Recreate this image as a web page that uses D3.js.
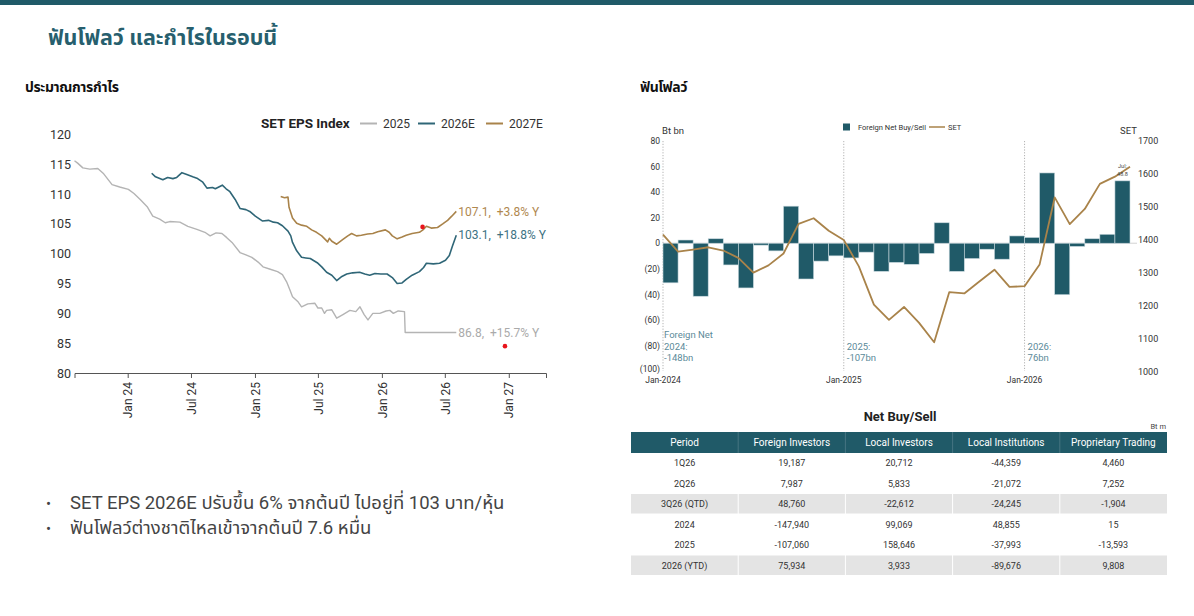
<!DOCTYPE html>
<html><head><meta charset="utf-8">
<script src="https://cdn.jsdelivr.net/npm/d3@7"></script>
<style>
body{margin:0;background:#fff;}
svg{font-family:Roboto,"Noto Sans","Noto Sans Thai",Loma,Garuda,sans-serif;}
</style></head><body>
<svg id="page" width="1194" height="616"></svg>
<script>
// ---- data: SET EPS index (consensus EPS by year) ----
var eps2025 = [["2023-08-01",115.6],["2023-08-10",115.2],["2023-08-25",114.4],["2023-09-14",114.2],["2023-10-07",114.3],
  ["2023-10-24",113.4],["2023-11-17",111.6],["2023-12-09",111.2],["2024-01-03",110.8],["2024-01-19",110.1],
  ["2024-02-06",109.1],["2024-02-26",107.9],["2024-03-13",106.3],["2024-04-02",105.8],["2024-04-18",105.2],["2024-05-01",105.4],
  ["2024-05-30",105.3],["2024-06-22",104.6],["2024-07-18",104.1],["2024-08-10",103.6],["2024-08-25",103.0],["2024-09-11",103.5],
  ["2024-09-28",103.4],["2024-10-12",102.7],["2024-10-27",101.9],["2024-11-19",100.2],["2024-12-06",99.8],
  ["2024-12-23",99.4],["2025-01-10",98.6],["2025-01-24",97.8],["2025-02-14",97.4],["2025-03-07",97.0],
  ["2025-03-21",96.5],["2025-04-02",95.3],["2025-04-11",94.0],["2025-04-19",92.8],["2025-05-04",92.0],
  ["2025-05-15",91.1],["2025-06-02",91.6],["2025-06-22",91.7],["2025-07-01",90.9],["2025-07-12",90.9],
  ["2025-07-20",90.0],["2025-07-26",90.5],["2025-08-10",90.6],["2025-08-24",89.2],["2025-09-11",89.8],["2025-10-01",90.5],
  ["2025-10-18",90.3],["2025-10-30",91.1],["2025-11-11",89.8],["2025-11-22",88.9],["2025-12-06",90.0],
  ["2025-12-26",90.0],["2026-01-13",90.4],["2026-01-24",90.5],["2026-02-03",90.0],["2026-02-17",90.4],
  ["2026-03-07",90.3],["2026-03-09",86.8],["2026-08-03",86.8]];
var eps2026 = [["2024-03-10",113.5],["2024-03-21",112.9],["2024-04-11",112.4],["2024-04-25",112.8],["2024-05-10",112.6],
  ["2024-05-21",112.8],["2024-06-05",113.6],["2024-06-19",113.3],["2024-07-06",112.9],["2024-07-20",112.6],
  ["2024-08-04",112.0],["2024-08-16",111.0],["2024-09-01",111.1],["2024-09-09",110.9],["2024-09-29",111.5],
  ["2024-10-10",110.9],["2024-10-21",110.4],["2024-11-05",109.1],["2024-11-19",107.6],["2024-12-06",107.4],
  ["2024-12-17",107.1],["2025-01-02",106.3],["2025-01-22",105.5],["2025-02-09",105.6],["2025-02-23",105.3],
  ["2025-03-07",105.2],["2025-03-21",104.7],["2025-04-06",103.8],["2025-04-14",103.0],["2025-04-19",101.9],
  ["2025-05-01",100.5],["2025-05-15",99.4],["2025-05-27",99.3],["2025-06-09",99.2],["2025-06-29",98.5],
  ["2025-07-12",97.8],["2025-07-26",96.9],["2025-08-10",96.4],["2025-08-24",95.5],["2025-09-08",96.2],
  ["2025-09-22",96.6],["2025-10-09",96.8],["2025-10-29",96.9],["2025-11-13",96.6],["2025-11-27",96.4],
  ["2025-12-12",96.7],["2025-12-29",96.6],["2026-01-16",96.6],["2026-01-31",96.0],["2026-02-14",95.0],
  ["2026-02-28",95.1],["2026-03-12",95.7],["2026-03-29",96.4],["2026-04-19",97.0],["2026-05-01",97.7],
  ["2026-05-09",98.4],["2026-05-29",98.3],["2026-06-16",98.4],["2026-07-03",98.9],["2026-07-14",99.7],
  ["2026-07-23",101.3],["2026-08-03",103.1]];
var eps2027 = [["2025-03-16",109.6],["2025-03-27",109.4],["2025-04-06",109.5],["2025-04-09",107.8],["2025-04-19",106.0],
  ["2025-05-01",105.1],["2025-05-15",104.8],["2025-05-30",104.6],["2025-06-13",104.0],["2025-06-27",103.6],
  ["2025-07-12",103.0],["2025-07-29",102.0],["2025-08-03",102.6],["2025-08-10",102.1],["2025-08-24",101.6],["2025-09-11",102.4],
  ["2025-09-25",103.0],["2025-10-06",103.4],["2025-10-20",103.0],["2025-11-03",103.1],["2025-11-21",103.3],
  ["2025-12-06",103.4],["2025-12-20",103.7],["2026-01-11",104.0],["2026-01-22",103.6],["2026-01-31",103.0],
  ["2026-02-14",102.5],["2026-02-28",102.8],["2026-03-12",103.1],["2026-03-29",103.4],["2026-04-19",103.6],
  ["2026-05-01",104.1],["2026-05-09",104.6],["2026-05-23",104.3],["2026-06-10",104.4],["2026-06-25",105.0],
  ["2026-07-09",105.6],["2026-07-21",106.3],["2026-08-03",107.1]];
var epsDots = [["2026-04-28",104.5],["2026-12-21",84.5]];
var epsSeries = ["2025","2026E","2027E"];
var epsEndLabels = ["86.8,  +15.7% Y","103.1,  +18.8% Y","107.1,  +3.8% Y"];
var epsTicks = [80,85,90,95,100,105,110,115,120];
var epsDateTicks = ["2024-01-01","2024-07-01","2025-01-01","2025-07-01","2026-01-01","2026-07-01","2027-01-01"];

// ---- data: foreign fund flow (Bt bn) and SET index ----
var flowMonths = ["2024-01","2024-02","2024-03","2024-04","2024-05","2024-06","2024-07","2024-08","2024-09","2024-10","2024-11","2024-12",
  "2025-01","2025-02","2025-03","2025-04","2025-05","2025-06","2025-07","2025-08","2025-09","2025-10","2025-11","2025-12",
  "2026-01","2026-02","2026-03","2026-04","2026-05","2026-06","2026-07"];
var foreignNet = [-31,2.5,-41.5,3.5,-17,-35,-1.5,-6,29,-28,-14,-9.9,
  -11.5,-7,-22,-15,-16.5,-8,16,-22,-12,-4.7,-12.5,5.7,
  4.5,55,-40.3,-2.5,3.5,7,48.8];
var setMonths = ["2023-12"].concat(flowMonths);
var setIndex = [1416,1365,1371,1378,1368,1346,1301,1323,1359,1449,1466,1428,1400,
  1320,1204,1158,1197,1149,1090,1242,1238,1274,1310,1258,1260,
  1326,1529,1448,1494,1570,1592,1622];
var flowTicks = [-100,-80,-60,-40,-20,0,20,40,60,80];
var setTicks = [1000,1100,1200,1300,1400,1500,1600,1700];
var yearStarts = ["2024-01","2025-01","2026-01"];
var yearLabels = ["Jan-2024","Jan-2025","Jan-2026"];
var yearNotes = [["Foreign Net","2024:","-148bn"],["2025:","-107bn"],["2026:","76bn"]];

// ---- data: net buy/sell table (Bt m) ----
var tableHeaders = ["Period","Foreign Investors","Local Investors","Local Institutions","Proprietary Trading"];
var periods = ["1Q26","2Q26","3Q26 (QTD)","2024","2025","2026 (YTD)"];
var foreignInvestors = [19187,7987,48760,-147940,-107060,75934];
var localInvestors = [20712,5833,-22612,99069,158646,3933];
var localInstitutions = [-44359,-21072,-24245,48855,-37993,-89676];
var propTrading = [4460,7252,-1904,15,-13593,9808];

var bullets = ["SET EPS 2026E ปรับขึ้น 6% จากต้นปี ไปอยู่ที่ 103 บาท/หุ้น","ฟันโฟลว์ต่างชาติไหลเข้าจากต้นปี 7.6 หมื่น"];

var TEAL = "#205a68", GOLD = "#a9834a", GREY = "#b4b4b4", LTEAL = "#2f6677";
var svg = d3.select("#page");
var parse = d3.timeParse("%Y-%m-%d");

// header
svg.append("rect").attr("x",0).attr("y",0).attr("width",1194).attr("height",5).attr("fill",TEAL);
svg.append("text").attr("x",48).attr("y",45).attr("font-size",21.5).attr("font-weight","bold").attr("fill","#275f6e")
  .text("ฟันโฟลว์ และกำไรในรอบนี้");
svg.append("text").attr("x",25).attr("y",92).attr("font-size",14).attr("font-weight","bold").attr("fill","#111")
  .attr("letter-spacing",-0.4).text("ประมาณการกำไร");
svg.append("text").attr("x",640).attr("y",92).attr("font-size",14).attr("font-weight","bold").attr("fill","#111")
  .attr("letter-spacing",-0.4).text("ฟันโฟลว์");

// ================= left: EPS chart =================
var x = d3.scaleTime().domain([parse("2023-08-01"), parse("2027-04-18")]).range([74.5, 546]);
var y = d3.scaleLinear().domain([80, 120]).range([373, 134.5]);
var epsColors = [GREY, LTEAL, GOLD];
var epsText = ["#aaaaaa", "#3d7282", "#b0884f"];
var epsData = [eps2025, eps2026, eps2027];

var gy = svg.append("g").attr("transform","translate(74,0)")
  .call(d3.axisLeft(y).tickValues(epsTicks).tickSize(0).tickPadding(3));
gy.select(".domain").remove();
gy.selectAll("text").attr("font-size",12.5).attr("fill","#333").style("font-family","Roboto");

var gx = svg.append("g").attr("transform","translate(0,373)")
  .call(d3.axisBottom(x).tickValues(epsDateTicks.map(parse)).tickSize(5).tickFormat(d3.timeFormat("%b %y")));
gx.select(".domain").attr("stroke","#555");
gx.selectAll(".tick line").attr("stroke","#555");
gx.selectAll("text").attr("transform","rotate(-90)").attr("x",-9).attr("y",0).attr("dy","0.35em")
  .attr("text-anchor","end").attr("font-size",12).attr("fill","#333").style("font-family","Roboto");

var line = d3.line().x(function(d){return x(parse(d[0]));}).y(function(d){return y(d[1]);});
svg.selectAll("path.eps").data(epsData).enter().append("path").attr("class","eps")
  .attr("d", line).attr("fill","none").attr("stroke", function(d,i){return epsColors[i];})
  .attr("stroke-width", function(d,i){return i==0?1.4:1.6;}).attr("stroke-linejoin","round");

svg.selectAll("text.epsEnd").data(epsData).enter().append("text").attr("class","epsEnd")
  .attr("x", function(d){return x(parse(d[d.length-1][0]))+2;})
  .attr("y", function(d){return y(d[d.length-1][1]);}).attr("dy","0.35em")
  .attr("font-size",12).attr("fill", function(d,i){return epsText[i];})
  .style("white-space","pre").text(function(d,i){return epsEndLabels[i];});

svg.selectAll("circle.dot").data(epsDots).enter().append("circle").attr("class","dot")
  .attr("cx", function(d){return x(parse(d[0]));}).attr("cy", function(d){return y(d[1]);})
  .attr("r",2.3).attr("fill","#e8141b");

// legend
var lg = svg.append("g").attr("font-size",12).attr("fill","#333");
lg.append("text").attr("x",261).attr("y",128).attr("font-size",13.5).attr("font-weight","bold").attr("fill","#222").text("SET EPS Index");
var lgX = [360, 418, 486];
epsSeries.forEach(function(s,i){
  lg.append("line").attr("x1",lgX[i]).attr("x2",lgX[i]+17).attr("y1",123.5).attr("y2",123.5)
    .attr("stroke",epsColors[i]).attr("stroke-width",2);
  lg.append("text").attr("x",lgX[i]+23).attr("y",128).text(s);
});

// bullets
bullets.forEach(function(b,i){
  svg.append("text").attr("x",46).attr("y",509+i*24.5).attr("font-size",15).attr("fill","#444").text("•");
  svg.append("text").attr("x",70).attr("y",509+i*24.5).attr("font-size",18.5).attr("fill","#444").text(b);
});

// ================= right: fund flow chart =================
var xb = d3.scaleBand().domain(flowMonths).range([663, 1130]).padding(0);
var xs = d3.scalePoint().domain(setMonths).range([663, 1130]);
var yL = d3.scaleLinear().domain([-100, 80]).range([371, 141]);
var yR = d3.scaleLinear().domain([1000, 1700]).range([372, 141]);

// year dividers
svg.selectAll("line.yr").data(yearStarts).enter().append("line").attr("class","yr")
  .attr("x1", function(d){return xb(d);}).attr("x2", function(d){return xb(d);})
  .attr("y1",141).attr("y2",371).attr("stroke","#aaa").attr("stroke-width",0.9).attr("stroke-dasharray","1.2,1.6");
svg.selectAll("text.yr").data(yearLabels).enter().append("text").attr("class","yr")
  .attr("x", function(d,i){return xb(yearStarts[i]);}).attr("y",382.5).attr("text-anchor","middle")
  .attr("font-size",8.5).attr("fill","#333").text(function(d){return d;});

svg.append("line").attr("x1",663).attr("x2",1137).attr("y1",yL(0)).attr("y2",yL(0)).attr("stroke","#c8c8c8").attr("stroke-width",0.8);

svg.selectAll("rect.bar").data(foreignNet).enter().append("rect").attr("class","bar")
  .attr("x", function(d,i){return xb(flowMonths[i]);}).attr("width", xb.bandwidth())
  .attr("y", function(d){return yL(Math.max(0,d));}).attr("height", function(d){return Math.abs(yL(d)-yL(0));})
  .attr("fill",TEAL).attr("stroke","#c9d9de").attr("stroke-width",0.6);

svg.append("path").datum(setIndex)
  .attr("d", d3.line().x(function(d,i){return xs(setMonths[i]);}).y(function(d){return yR(d);}))
  .attr("fill","none").attr("stroke",GOLD).attr("stroke-width",1.8).attr("stroke-linejoin","round");

var fmtParen = function(v){ return v < 0 ? "(" + (-v) + ")" : String(v); };
var gl = svg.append("g").attr("transform","translate(662,0)")
  .call(d3.axisLeft(yL).tickValues(flowTicks).tickSize(0).tickPadding(2).tickFormat(fmtParen));
gl.select(".domain").remove();
gl.selectAll("text").attr("font-size",8.5).attr("fill","#333").style("font-family","Roboto");
gl.selectAll(".tick").filter(function(d){return d==-100;}).select("text").attr("dy","0.1em");
var gr = svg.append("g").attr("transform","translate(1136,0)")
  .call(d3.axisRight(yR).tickValues(setTicks).tickSize(0).tickPadding(2).tickFormat(d3.format("d")));
gr.select(".domain").remove();
gr.selectAll("text").attr("font-size",9).attr("fill","#333").style("font-family","Roboto");

svg.append("text").attr("x",662).attr("y",134).attr("font-size",9.5).attr("fill","#333").text("Bt bn");
svg.append("text").attr("x",1120).attr("y",134).attr("font-size",9.5).attr("fill","#333").text("SET");

// year notes
yearNotes.forEach(function(lines,i){
  var nx = xb(yearStarts[i]) + (i==0?1:3);
  lines.forEach(function(t,j){
    svg.append("text").attr("x",nx).attr("y",361-(lines.length-1-j)*11.3).attr("font-size",9.5).attr("fill","#5b8a99").text(t);
  });
});
// last bar label
var lastI = foreignNet.length-1;
svg.append("text").attr("x",xb(flowMonths[lastI])+xb.bandwidth()/2).attr("y",168).attr("text-anchor","middle")
  .attr("font-size",5.5).attr("fill","#444").text("Jul:");
svg.append("text").attr("x",xb(flowMonths[lastI])+xb.bandwidth()/2).attr("y",176).attr("text-anchor","middle")
  .attr("font-size",5.5).attr("fill","#444").text(foreignNet[lastI].toFixed(1));

// legend
svg.append("rect").attr("x",843).attr("y",123.5).attr("width",7).attr("height",7).attr("fill",TEAL);
svg.append("text").attr("x",858).attr("y",130).attr("font-size",7.5).attr("fill","#333").text("Foreign Net Buy/Sell");
svg.append("line").attr("x1",929).attr("x2",945).attr("y1",127).attr("y2",127).attr("stroke",GOLD).attr("stroke-width",1.5);
svg.append("text").attr("x",948).attr("y",130).attr("font-size",7.5).attr("fill","#333").text("SET");

// ================= table =================
var loc = d3.formatLocale({decimal:".",thousands:",",grouping:[3],currency:["",""],minus:"-"});
var fmt = loc.format(",");
var cols = [periods, foreignInvestors, localInvestors, localInstitutions, propTrading];
var tx = d3.scaleBand().domain(tableHeaders).range([631, 1167]);
var ty = d3.scaleBand().domain(periods).range([453, 576]);

svg.append("text").attr("x",900).attr("y",421).attr("text-anchor","middle").attr("font-size",13).attr("font-weight","bold")
  .attr("fill","#222").text("Net Buy/Sell");
svg.append("text").attr("x",1166).attr("y",428.5).attr("text-anchor","end").attr("font-size",7.5).attr("fill","#444").text("Bt m");

svg.append("rect").attr("x",631).attr("y",432).attr("width",536).attr("height",21).attr("fill",TEAL);
svg.selectAll("line.hsep").data(tableHeaders.slice(1)).enter().append("line").attr("class","hsep")
  .attr("x1",function(d){return tx(d);}).attr("x2",function(d){return tx(d);}).attr("y1",432).attr("y2",453)
  .attr("stroke","#5f8793").attr("stroke-width",0.6);
svg.selectAll("text.th").data(tableHeaders).enter().append("text").attr("class","th")
  .attr("x",function(d){return tx(d)+tx.bandwidth()/2;}).attr("y",446).attr("text-anchor","middle")
  .attr("font-size",10).attr("fill","#fff").text(function(d){return d;});

svg.selectAll("rect.band").data(periods.filter(function(p){return /\(/.test(p);})).enter().append("rect").attr("class","band")
  .attr("x",631).attr("width",536).attr("y",function(d){return ty(d);}).attr("height",ty.bandwidth()-1).attr("fill","#e4e4e4");
svg.selectAll("line.csep").data(tableHeaders.slice(1)).enter().append("line").attr("class","csep")
  .attr("x1",function(d){return tx(d);}).attr("x2",function(d){return tx(d);}).attr("y1",453).attr("y2",576)
  .attr("stroke","#fff").attr("stroke-width",1);

cols.forEach(function(col,c){
  svg.selectAll("text.c"+c).data(col).enter().append("text").attr("class","c"+c)
    .attr("x", tx(tableHeaders[c])+tx.bandwidth()/2)
    .attr("y", function(d,i){return ty(periods[i])+ty.bandwidth()/2;}).attr("dy","0.35em")
    .attr("text-anchor","middle").attr("font-size",9).attr("fill","#333")
    .text(function(d){return c==0?d:fmt(d);});
});
</script></body></html>
